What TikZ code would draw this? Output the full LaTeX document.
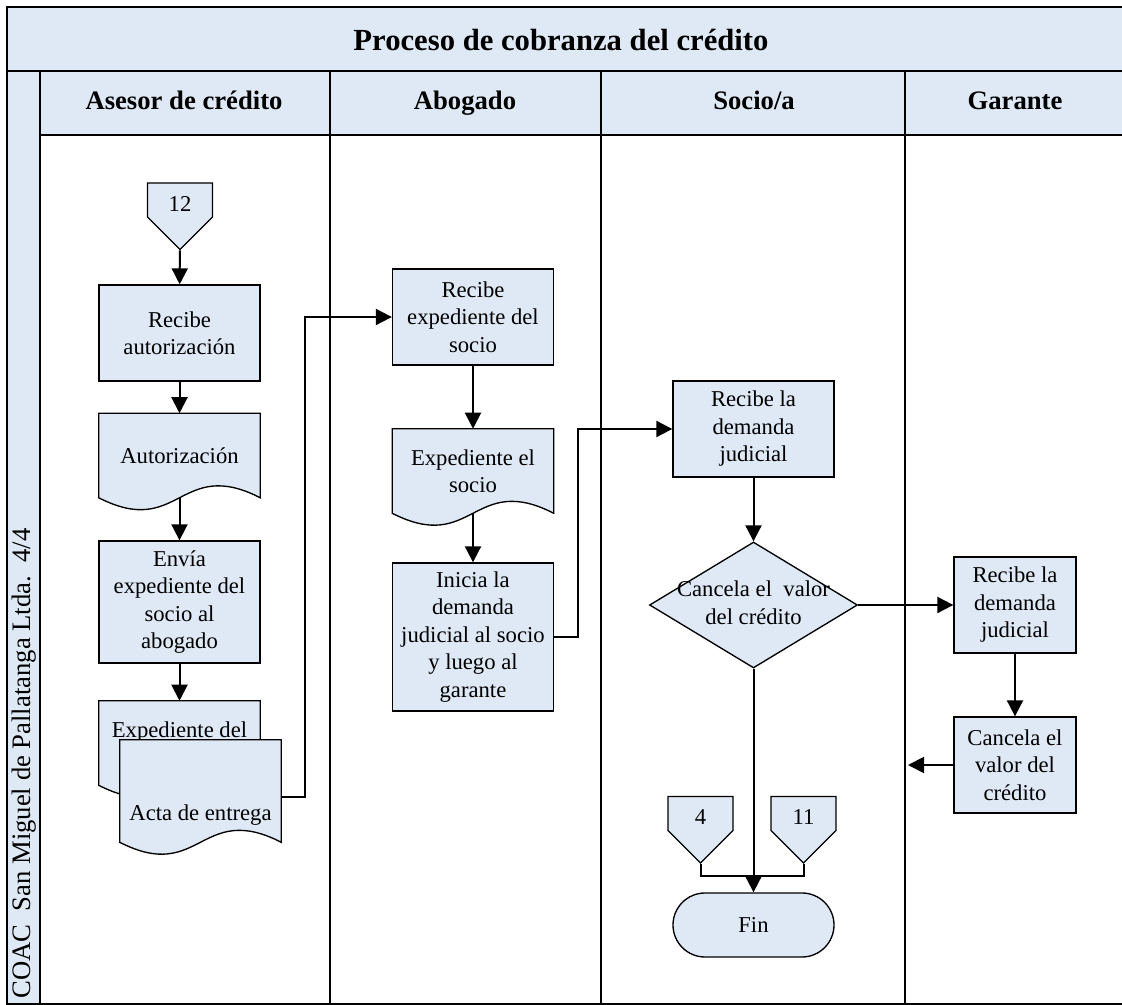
\documentclass[tikz,border=0pt]{standalone}
\usepackage{fontspec}
\setmainfont{Liberation Serif}
\usetikzlibrary{arrows.meta, positioning, shapes.geometric, shapes.symbols}
\definecolor{lanefill}{HTML}{DEE9F5}
\tikzset{every node/.style={font=\fontsize{17}{20.6}\selectfont}}

\begin{document}
\begin{tikzpicture}[x=0.75pt, y=-0.75pt,
    procbox/.style={draw, line width=1pt, fill=lanefill, minimum width=120.75pt, minimum height=72pt, align=center, inner sep=2pt},
    docbox/.style={rectangle, minimum width=120.75pt, minimum height=63pt, align=center, inner sep=2pt,
      append after command={\pgfextra{\let\docnode\tikzlastnode
        \draw[line width=1pt, fill=lanefill] (\docnode.south west) -- (\docnode.north west) -- (\docnode.north east) -- (\docnode.south east)
          .. controls ([yshift=31pt]\docnode.south) and ([yshift=-31pt]\docnode.south) .. (\docnode.south west) -- cycle;}}},
    pagelink/.style={signal, signal to=south, signal pointer angle=90, draw, line width=1pt, fill=lanefill, minimum width=48.75pt, text height=17pt, text depth=0pt, inner xsep=2pt, inner ysep=4.25pt},
    decision/.style={diamond, draw, line width=1pt, fill=lanefill, minimum width=156pt, minimum height=94.5pt, inner sep=0pt},
    finbox/.style={rectangle, rounded corners=24pt, draw, line width=1pt, fill=lanefill, minimum width=120.75pt, minimum height=48pt},
    flow/.style={-{Triangle[length=12pt, width=12pt]}, line width=1.5pt},
    lanehead/.style={anchor=base, font=\fontsize{20}{24}\selectfont\bfseries},
    frameline/.style={line width=1.3pt}]
  \useasboundingbox (0,0) rectangle (1122,1005);

  % pool and lanes
  \draw[frameline, fill=lanefill] (7,7) rectangle (1124,71);
  \node[font=\fontsize{23}{27}\selectfont\bfseries] (title) at (561,40) {Proceso de cobranza del crédito};
  \draw[frameline, fill=lanefill] (7,71) rectangle (40,1004);
  \draw[frameline, fill=lanefill] (40,71) rectangle (1124,135);
  \draw[frameline] (40,135) rectangle (1124,1004);
  \foreach \x in {330,601,905}
    \draw[frameline] (\x,71) -- (\x,1004);
  \node[rotate=90, anchor=west, inner sep=0pt, font=\fontsize{20}{24}\selectfont] (coop) at (24,999) {COAC\ \ San Miguel de Pallatanga Ltda.\ \ 4/4};
  \node[lanehead] (hasesor) at (184,110) {Asesor de crédito};
  \node[lanehead] (habogado) at (465,110) {Abogado};
  \node[lanehead] (hsocio) at (754,110) {Socio/a};
  \node[lanehead] (hgarante) at (1015,110) {Garante};

  % Asesor de credito
  \node[pagelink] (c12) at (180,200) {12};
  \node[procbox] (rauto) at (179.5,333) {Recibe\\autorización};
  \node[docbox] (dauto) at (179.5,455.5) {Autorización};
  \node[procbox, minimum height=91.5pt] (renvia) at (179.5,602) {Envía\\expediente del\\socio al\\abogado};
  \node[docbox] (dexp) at (179.5,743) {Expediente del\\\mbox{}};
  \node[docbox, minimum height=76.5pt] (dacta) at (200.5,791) {\mbox{}\\[27pt]Acta de entrega};

  % Abogado
  \node[procbox] (rexp) at (473,317) {Recibe\\expediente del\\socio};
  \node[docbox] (dexps) at (473,471) {Expediente el\\socio};
  \node[procbox, minimum height=111pt] (rdem) at (473,637) {Inicia la\\demanda\\judicial al socio\\y luego al\\garante};

  % Socio/a
  \node[procbox] (rsoc) at (753.5,429) {Recibe la\\demanda\\judicial};
  \node[decision] (dcan) at (753.5,605) {\makebox[0pt]{\begin{tabular}{@{}c@{}}Cancela el\ \ valor\\del crédito\end{tabular}}};
  \node[pagelink] (c4) at (700.5,813.5) {4};
  \node[pagelink] (c11) at (803.5,813.5) {11};
  \node[finbox] (fin) at (753.5,925) {Fin};

  % Garante
  \node[procbox, minimum width=91.5pt] (rgar) at (1015,605) {Recibe la\\demanda\\judicial};
  \node[procbox, minimum width=91.5pt] (cgar) at (1015,765) {Cancela el\\valor del\\crédito};
  \coordinate (gback) at (908,765);

  % flows
  \draw[flow] (c12) -- (rauto);
  \draw[flow] (rauto) -- (dauto);
  \draw[flow] (dauto.south) -- (renvia);
  \draw[flow] (renvia) -- (dexp);
  \draw[flow] ([yshift=-4.5pt]dacta.east) -- ++(24,0) |- (rexp.west);
  \draw[flow] (rexp) -- (dexps);
  \draw[flow] (dexps.south) -- (rdem);
  \draw[flow] (rdem.east) -- ++(24,0) |- (rsoc.west);
  \draw[flow] (rsoc) -- (dcan);
  \draw[flow] (dcan) -- (rgar);
  \draw[flow] (rgar) -- (cgar);
  \draw[flow] (cgar) -- (gback);
  \draw[flow] (dcan) -- (fin);
  \draw[line width=1.5pt] (c4.south) -- ++(0,12) -| (c11.south);
\end{tikzpicture}
\end{document}
